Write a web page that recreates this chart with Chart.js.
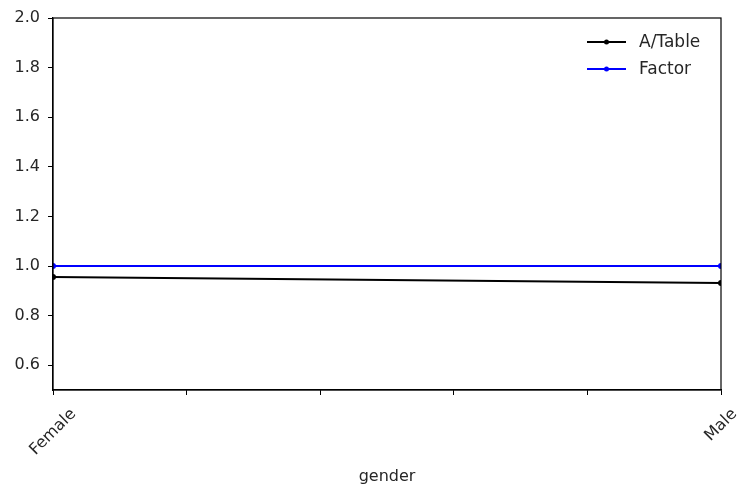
<!DOCTYPE html>
<html>
<head>
<meta charset="utf-8">
<script src="https://cdn.jsdelivr.net/npm/chart.js@4.4.0/dist/chart.umd.min.js"></script>
<style>
  html, body { margin: 0; padding: 0; background: #fff; }
  #wrap { width: 738px; height: 492px; }
</style>
</head>
<body>
<div id="wrap"><canvas id="chart" width="738" height="492"></canvas></div>
<script>
// Data
const categories = ['Female', 'Male'];
const aTable = [0.956, 0.931];
const factor = [1.0, 1.0];
const yTicks = [0.6, 0.8, 1.0, 1.2, 1.4, 1.6, 1.8, 2.0];

const FONT = 'DejaVu Sans';
const TXT = '#262626';

function toPoints(values) {
  return values.map(function(v, i) {
    return { x: i / (categories.length - 1), y: v };
  });
}

// frame, centred rotated category labels, legend inside the plot
const framePlugin = {
  id: 'frame',
  afterDraw: function(chart) {
    const ctx = chart.ctx;
    const a = chart.chartArea;
    const xs = chart.scales.x;
    ctx.save();
    ctx.strokeStyle = '#000';
    ctx.lineWidth = 1.2;
    ctx.strokeRect(a.left, a.top, a.right - a.left, a.bottom - a.top);

    // x category labels, rotated 45deg and centred on the tick (matplotlib style)
    ctx.font = '16px ' + FONT;
    ctx.fillStyle = TXT;
    ctx.textAlign = 'center';
    ctx.textBaseline = 'middle';
    categories.forEach(function(c, i) {
      const x = xs.getPixelForValue(i / (categories.length - 1));
      const w = ctx.measureText(c).width;
      const cy = a.bottom + 16 + (w + 16) * 0.3535;
      ctx.save();
      ctx.translate(x, cy);
      ctx.rotate(-Math.PI / 4);
      ctx.fillText(c, 0, 0);
      ctx.restore();
    });

    const rows = [
      { label: 'A/Table', color: '#000000' },
      { label: 'Factor', color: '#0000ff' }
    ];
    ctx.font = '17px ' + FONT;
    ctx.textAlign = 'left';
    rows.forEach(function(r, i) {
      const y = 42 + i * 27;
      ctx.strokeStyle = r.color;
      ctx.lineWidth = 2;
      ctx.beginPath();
      ctx.moveTo(587, y);
      ctx.lineTo(626, y);
      ctx.stroke();
      ctx.fillStyle = r.color;
      ctx.beginPath();
      ctx.arc(606.5, y, 2.5, 0, Math.PI * 2);
      ctx.fill();
      ctx.fillStyle = TXT;
      ctx.fillText(r.label, 639, y + 1);
    });
    ctx.restore();
  }
};

new Chart(document.getElementById('chart'), {
  type: 'line',
  data: {
    datasets: [
      {
        label: 'A/Table',
        data: toPoints(aTable),
        borderColor: '#000000',
        backgroundColor: '#000000',
        borderWidth: 2,
        pointRadius: 2,
        tension: 0
      },
      {
        label: 'Factor',
        data: toPoints(factor),
        borderColor: '#0000ff',
        backgroundColor: '#0000ff',
        borderWidth: 2,
        pointRadius: 2,
        tension: 0
      }
    ]
  },
  options: {
    responsive: false,
    animation: false,
    layout: { padding: { top: 18, right: 17, left: 0, bottom: 0 } },
    plugins: {
      legend: { display: false },
      tooltip: { enabled: false }
    },
    scales: {
      x: {
        type: 'linear',
        min: 0,
        max: 1,
        afterFit: function(scale) { scale.height = 102; scale.paddingLeft = 0; scale.paddingRight = 0; },
        afterBuildTicks: function(scale) {
          scale.ticks = [0, 0.2, 0.4, 0.6, 0.8, 1].map(function(v) { return { value: v }; });
        },
        grid: {
          drawOnChartArea: false,
          drawTicks: true,
          tickLength: 5,
          tickColor: '#000',
          tickWidth: 1
        },
        border: { display: true, color: '#000', width: 1.2 },
        ticks: {
          autoSkip: false,
          maxRotation: 0,
          color: TXT,
          font: { family: FONT, size: 16 },
          callback: function() { return ''; }
        },
        title: {
          display: true,
          text: 'gender',
          color: TXT,
          font: { family: FONT, size: 16 },
          padding: { top: 0, bottom: 6 }
        }
      },
      y: {
        min: 0.5,
        max: 2.0,
        afterFit: function(scale) { scale.width = 53; },
        afterBuildTicks: function(scale) {
          scale.ticks = yTicks.map(function(v) { return { value: v }; });
        },
        grid: {
          drawOnChartArea: false,
          drawTicks: true,
          tickLength: 5,
          tickColor: '#000',
          tickWidth: 1
        },
        border: { display: true, color: '#000', width: 1.2 },
        ticks: {
          padding: 8,
          color: TXT,
          font: { family: FONT, size: 16 },
          callback: function(value) { return value.toFixed(1); }
        }
      }
    }
  },
  plugins: [framePlugin]
});
</script>
</body>
</html>
